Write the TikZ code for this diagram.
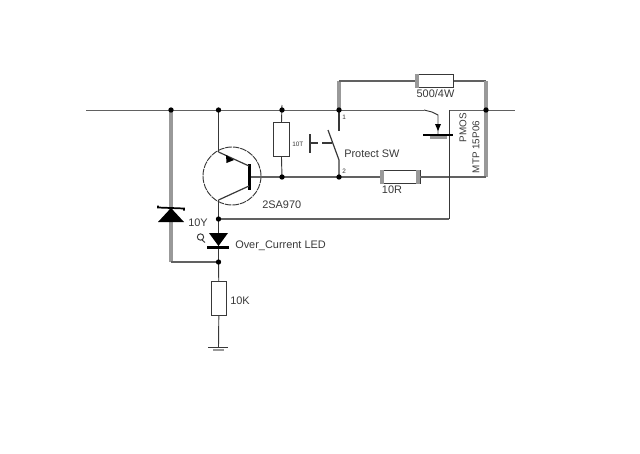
\documentclass[tikz,border=0pt]{standalone}
\usepackage{fontspec}
\setmainfont{Liberation Sans}
\definecolor{wire}{gray}{0.38}
\definecolor{heavy}{gray}{0.6}
\definecolor{ink}{gray}{0.22}
\tikzset{
  x=0.75pt,y=-0.75pt,
  net/.style={draw=wire,line width=0.6pt},
  lead/.style={draw=ink,line width=0.7pt},
  thick wire/.style={draw=wire,line width=1.6pt},
  gray wire/.style={draw=heavy,line width=2.8pt},
  res/.style={draw=ink,fill=white,line width=0.6pt,inner sep=0pt},
  solder/.style={circle,fill=black,inner sep=0pt,minimum size=4pt},
  lbl/.style={font=\fontsize{8.2pt}{9pt}\selectfont,text=ink,inner sep=0pt},
  tiny lbl/.style={font=\fontsize{4.8pt}{5pt}\selectfont,text=ink,inner sep=0pt},
  side lbl/.style={font=\fontsize{7.4pt}{8pt}\selectfont,text=ink,inner sep=0pt,rotate=90},
  part/.style={fill=black,draw=none},
  resend/.style={fill=heavy,draw=none}
}
\begin{document}
\begin{tikzpicture}
\useasboundingbox (0,0) rectangle (640,454);
% junction positions
\coordinate (c1) at (171,110);
\coordinate (c2) at (218.5,110);
\coordinate (c3) at (282,110);
\coordinate (c4) at (339,110);
\coordinate (c5) at (486,110);
\coordinate (c6) at (282,177);
\coordinate (c7) at (339,177);
\coordinate (c8) at (218.5,219);
\coordinate (c9) at (218.5,262);
\coordinate (busL) at (86,110);
\coordinate (busR) at (515,110);
\coordinate (dL) at (424,110);
\coordinate (sT) at (449,110);
\coordinate (sB) at (449,219);
\coordinate (rt) at (486,81);
\coordinate (lt) at (339,81);
\coordinate (rb) at (486,177);
\coordinate (gl) at (171,262);
% resistors
\node[res,minimum width=28pt,minimum height=10pt] (r500) at (434.5,81) {};
\node[res,minimum width=30pt,minimum height=10pt] (r10r) at (400,177) {};
\node[res,minimum width=12pt,minimum height=26pt] (r1) at (281,139.5) {};
\node[res,minimum width=11pt,minimum height=25pt] (r10k) at (219,298.5) {};
\fill[resend] (r500.south west) rectangle ++(4,-14);
\fill[resend] (r10r.south west) rectangle ++(4,-14);
\fill[resend] (r10r.south east) rectangle ++(-4,-14);
% wires
\draw[net] (busL) -- (dL);
\draw[net] (sT) -- (busR);
\draw[gray wire] (c1) -- (gl);
\draw[thick wire] (gl) -- (c9);
\draw[gray wire] (c4) -- (lt);
\draw[thick wire] (lt) -- (r500);
\draw[thick wire] (r500) -- (rt);
\draw[gray wire] (rt) -- (rb);
\draw[thick wire] (rb) -- (r10r);
\draw[thick wire] (c6) -- (r10r);
\draw[thick wire] (c8) -- (sB);
\draw[lead] (sT) -- (sB);
\draw[lead] (282,105) -- (r1);
\draw[lead] (r1) -- (c6);
\draw[lead] (c2) -- (218.5,152);
\draw[lead] (218.5,200) -- (c8);
\draw[lead] (c8) -- (c9);
\draw[lead] (c9) -- (r10k);
\draw[lead] (r10k) -- (218.5,347);
\draw[lead] (208,347) -- (228,347);
\draw[draw=heavy,line width=1.4pt] (213,350) -- (224,350);
% transistor
\node[draw=ink,circle,dash pattern=on 5pt off 0.7pt,line width=0.7pt,minimum size=43.5pt,inner sep=0pt] (q1) at (232,176) {};
\fill[part] (248,164) rectangle (251,190);
\draw[lead,line width=0.9pt] (249,166) -- (218.5,152);
\draw[lead,line width=0.9pt] (249,186) -- (218.5,200);
\fill[part] (226,155) -- (234,160) -- (226.5,163) -- cycle;
\draw[thick wire] (251,177) -- (c6);
% zener
\fill[part] (171,208) -- (184,222) -- (158,222) -- cycle;
\draw[draw=black,line width=1.3pt] (158,205.5) -- (158,207.5) -- (184,208.5) -- (184,210.5);
% LED
\fill[part] (209,233) -- (228,233) -- (218.5,246) -- cycle;
\draw[draw=black,line width=1.7pt] (207,247.5) -- (229,247.5);
\draw[draw=ink,line width=0.7pt] (200.5,237) circle (3.2);
\draw[draw=ink,line width=0.7pt] (202,240) -- (205,242.5);
% switch
\draw[lead,line width=0.9pt] (c4) -- (339,131);
\draw[lead,line width=0.9pt] (c7) -- (339,160) -- (328,130);
\draw[draw=ink,line width=0.8pt] (310,134) -- (310,153);
\draw[draw=ink,line width=0.8pt] (310,143) -- (318,143);
\draw[draw=ink,line width=0.8pt] (322,143) -- (332,143);
% MOSFET
\draw[lead] (dL) -- (432,112) -- (438,115) -- (438,135);
\draw[draw=black,line width=1.1pt] (423,135) -- (453,135);
\draw[draw=heavy,line width=1.8pt] (430,137.5) -- (447,137.5);
\fill[part] (435,124) -- (441,124) -- (438,131) -- cycle;
% junction dots on top
\foreach \c/\n in {c1/j1,c2/j2,c3/j3,c4/j4,c5/j5,c6/j6,c7/j7,c8/j8,c9/j9}
  \node[solder] (\n) at (\c) {};
% labels
\node[lbl,anchor=west] (tz) at (188,223) {10Y};
\node[lbl,anchor=west] (tq) at (262,205) {2SA970};
\node[lbl,anchor=west] (tled) at (235,246) {Over\_Current LED};
\node[lbl,anchor=west] (t10k) at (230,301) {10K};
\node[lbl,anchor=west] (tsw) at (344,154) {Protect SW};
\node[lbl,anchor=center] (t10r) at (392,190) {10R};
\node[lbl,anchor=center] (t500) at (435.5,94) {500/4W};
\node[tiny lbl,anchor=west] (t1r) at (292,144) {10T};
\node[tiny lbl,anchor=west] (p1) at (342,117) {1};
\node[tiny lbl,anchor=west] (p2) at (342,171) {2};
\node[side lbl] (tp) at (463,127.5) {PMOS};
\node[side lbl] (tm) at (476,147) {MTP 15P06};
\end{tikzpicture}
\end{document}
